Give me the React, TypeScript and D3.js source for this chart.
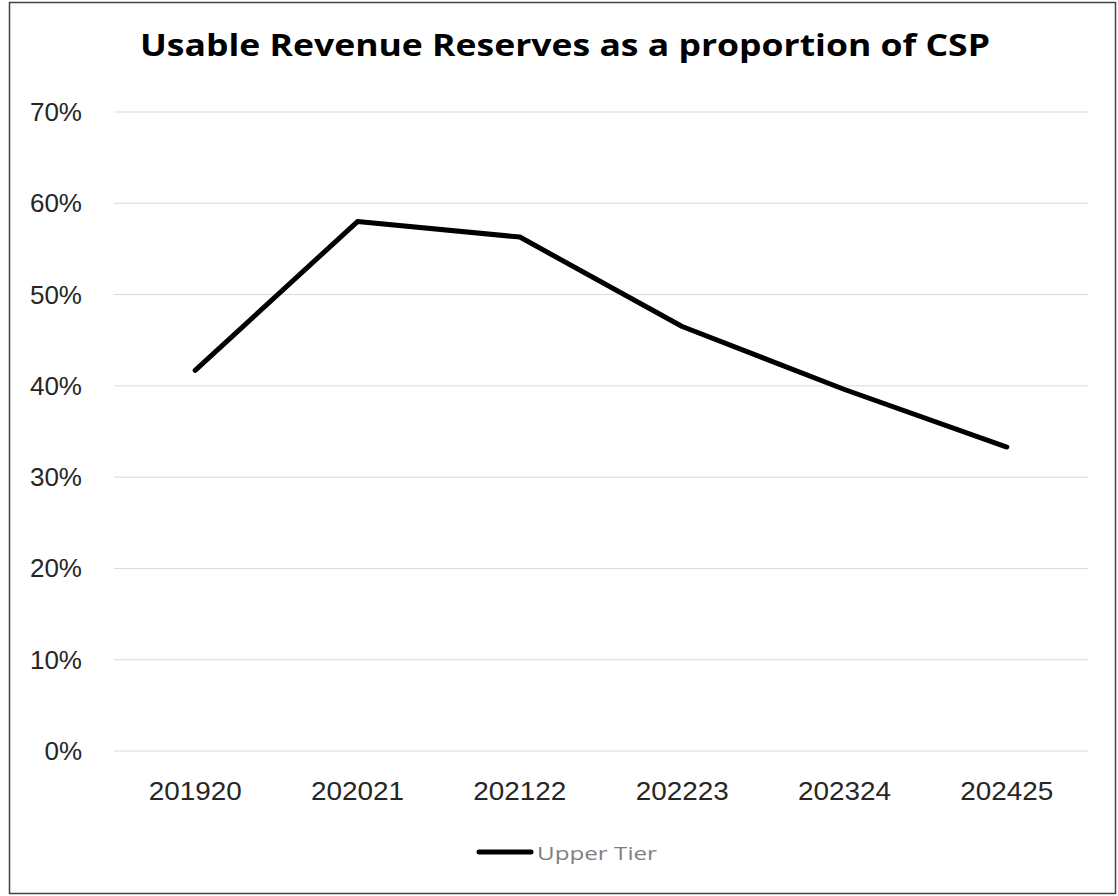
import React from "react";
import * as d3 from "d3";

const categories = ["201920", "202021", "202122", "202223", "202324", "202425"];
const upperTier = [0.417, 0.58, 0.563, 0.465, 0.396, 0.333];
const yTicks = [0, 0.1, 0.2, 0.3, 0.4, 0.5, 0.6, 0.7];
const seriesName = "Upper Tier";
const title = "Usable Revenue Reserves as a proportion of CSP";

export default function App() {
  const W = 1118, H = 896;
  const left = 114, right = 1088, top = 112, bottom = 751;
  const x = d3.scaleBand<string>().domain(categories).range([left, right]);
  const y = d3.scaleLinear().domain([0, 0.7]).range([bottom, top]);
  const line = d3.line<number>()
    .x((_, i) => (x(categories[i]) as number) + x.bandwidth() / 2)
    .y((d) => y(d));
  const fmt = d3.format(".0%");
  return (
    <svg width={W} height={H} style={{ position: "absolute", left: 0, top: 0, background: "#fff" }}>
      <rect x={9.5} y={2.5} width={1106} height={891} fill="#fff" stroke="#404040" strokeWidth={1.5} />
      <text x={565} y={56} textAnchor="middle" fontFamily="'Open Sans', Lato, sans-serif" fontWeight={700} fontSize={31} fill="#000" textLength={850} lengthAdjust="spacingAndGlyphs">{title}</text>
      {yTicks.map((t) => (
        <g key={t}>
          <line x1={left} x2={right} y1={y(t)} y2={y(t)} stroke="#d9d9d9" strokeWidth={1} />
          <text x={82} y={y(t) + 9} textAnchor="end" fontFamily="'Liberation Sans', Arial, sans-serif" fontSize={26} fill="#262626">{fmt(t)}</text>
        </g>
      ))}
      {categories.map((c) => (
        <text key={c} x={(x(c) as number) + x.bandwidth() / 2} y={800} textAnchor="middle" fontFamily="'Liberation Sans', Arial, sans-serif" fontSize={26} fill="#262626" textLength={93} lengthAdjust="spacingAndGlyphs">{c}</text>
      ))}
      <path d={line(upperTier) || ""} fill="none" stroke="#000" strokeWidth={5} strokeLinejoin="round" strokeLinecap="round" />
      <line x1={479} x2={531} y1={852} y2={852} stroke="#000" strokeWidth={5} strokeLinecap="round" />
      <text x={537} y={860} fontFamily="'Open Sans', Lato, sans-serif" fontSize={19} fill="#7f7f7f" textLength={120} lengthAdjust="spacingAndGlyphs">{seriesName}</text>
    </svg>
  );
}
